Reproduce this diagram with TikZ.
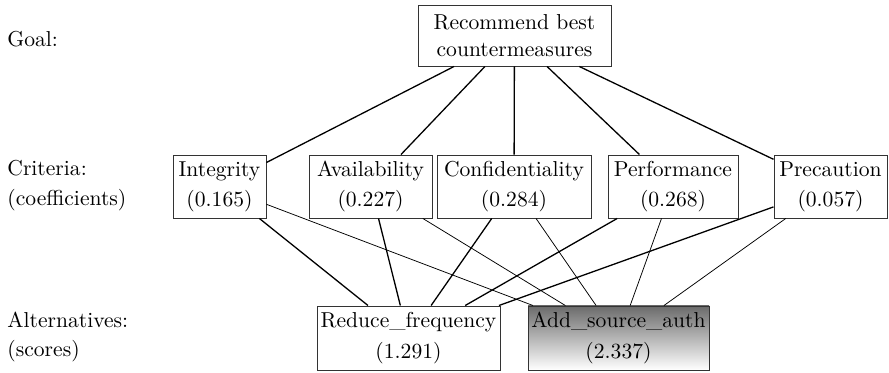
\documentclass[tikz,border=0pt]{standalone}
\begin{document}
\begin{tikzpicture}[x=0.463pt, y=-0.463pt,
  box/.style 2 args={draw=black!80, line width=0.45pt, inner sep=0pt, align=center,
    minimum width=#1*0.463pt, minimum height=#2*0.463pt,
    font=\fontsize{10}{13.8}\selectfont},
  lvl/.style={anchor=west, inner sep=0pt, align=left,
    font=\fontsize{10}{13.8}\selectfont},
  upper/.style={line width=0.6pt},
  strong/.style={line width=0.6pt},
  weak/.style={line width=0.35pt}]
\path[use as bounding box] (0,0) rectangle (889,373);

% level labels
\node[lvl] (lgoal) at (7,39) {Goal:};
\node[lvl] (lcrit) at (7,185.5) {Criteria:\\(coefficients)};
\node[lvl] (lalt)  at (7,337) {Alternatives:\\(scores)};

% goal
\node[box={193}{61}, font=\fontsize{10}{12.8}\selectfont] (goal) at (514.5,35.5)
  {Recommend best\\countermeasures};

% criteria
\node[box={93}{63}]  (integ) at (219.5,186.5) {Integrity\\(0.165)};
\node[box={123}{63}] (avail) at (370.5,186.5) {Availability\\(0.227)};
\node[box={154}{63}] (conf)  at (514,186.5)   {Confidentiality\\(0.284)};
\node[box={130}{63}] (perf)  at (673,186.5)   {Performance\\(0.268)};
\node[box={113}{63}] (prec)  at (830.5,186.5) {Precaution\\(0.057)};

% alternatives
\node[box={183}{64}, font=\fontsize{10}{14.4}\selectfont] (reduce) at (408.5,338)
  {Reduce\_frequency\\(1.291)};
\node[box={181}{64}, font=\fontsize{10}{14.4}\selectfont,
      top color=black!58, bottom color=white] (addsrc) at (618.5,338)
  {Add\_source\_auth\\(2.337)};

% goal to criteria
\foreach \c in {integ,avail,conf,perf,prec}
  \draw[upper] (goal) -- (\c);

% criteria to alternatives
\foreach \c in {integ,avail,conf,perf,prec}{
  \draw[strong] (\c) -- (reduce);
  \draw[weak] (\c) -- (addsrc);
}
\end{tikzpicture}
\end{document}
